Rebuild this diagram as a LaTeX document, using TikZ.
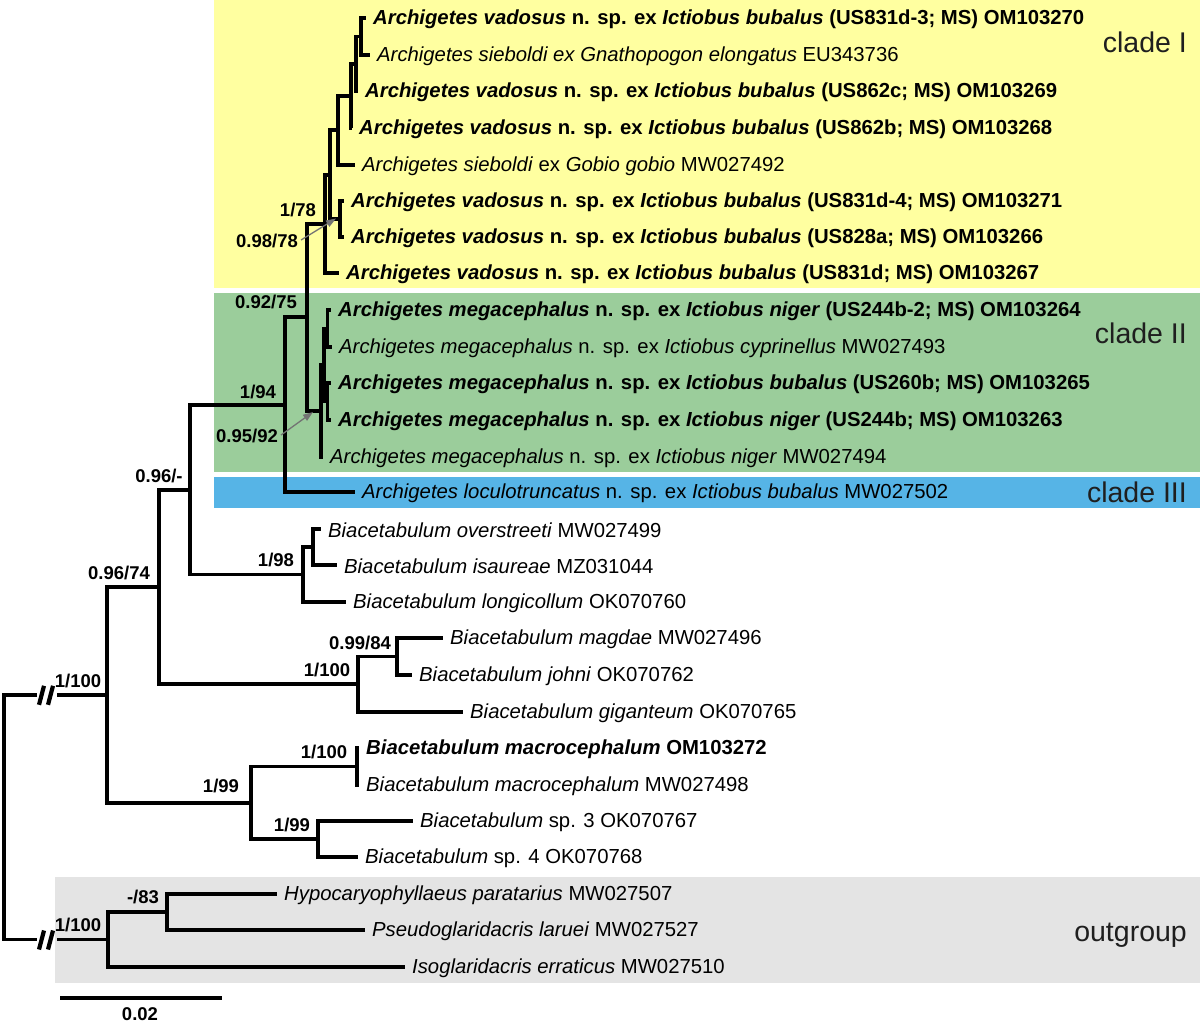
\documentclass[tikz,border=0pt]{standalone}
\usepackage{fontspec}
\setmainfont{Liberation Sans}
\usetikzlibrary{calc,arrows.meta}
\definecolor{cyel}{RGB}{255,255,160}
\definecolor{cgrn}{RGB}{155,205,155}
\definecolor{cblu}{RGB}{86,180,230}
\definecolor{cgry}{RGB}{228,228,228}
\newcommand{\bI}[1]{\textbf{\textit{#1}}}
\newcommand{\It}[1]{\textit{#1}}
\begin{document}
\begin{tikzpicture}[x=1pt,y=-1pt,
  br/.style={line width=3.9pt},
  tip/.style={anchor=west,inner sep=0pt,xshift=7pt,yshift=-1pt,font=\fontsize{20.3}{23}\selectfont},
  suplab/.style={inner sep=0pt,font=\fontsize{18.5}{21}\selectfont\bfseries},
  cladelab/.style={anchor=east,inner sep=0pt,font=\fontsize{28.5}{32}\selectfont,text=black!88},
  arr/.style={draw=gray!90!black,line width=1.3pt,-{Triangle[length=10pt,width=7pt]}},
  brk/.style={line width=4.2pt}]
\useasboundingbox (0,0) rectangle (1200,1024);
% backgrounds
\fill[cyel] (214,0) rectangle (1200,288);
\fill[cgrn] (214,293) rectangle (1200,472);
\fill[cblu] (214,477) rectangle (1200,508);
\fill[cgry] (55,877) rectangle (1200,983);
% internal nodes
\coordinate (r) at (4,817);
\coordinate (b1l) at (37,694.8);
\coordinate (b1r) at (57,694.8);
\coordinate (b2l) at (37,939.5);
\coordinate (b2r) at (57,939.5);
\coordinate (T) at (107,694.8);
\coordinate (U) at (159,586.9);
\coordinate (V) at (190,489.6);
\coordinate (W) at (285,404.7);
\coordinate (Z) at (307,317.4);
\coordinate (Y) at (325,223.9);
\coordinate (X) at (330,174.7);
\coordinate (G) at (338,130.4);
\coordinate (F) at (351,95.9);
\coordinate (E) at (356,63.75);
\coordinate (A) at (361,36.5);
\coordinate (H) at (340,219);
\coordinate (S) at (321,411);
\coordinate (R) at (324,365);
\coordinate (P) at (327.5,328.5);
\coordinate (Q) at (327.5,401.5);
\coordinate (B1) at (303,574.5);
\coordinate (B2) at (313,547);
\coordinate (C1) at (358,684.25);
\coordinate (C2) at (397,656.5);
\coordinate (D1) at (251,802.75);
\coordinate (D2) at (357,766.5);
\coordinate (D3) at (318,839);
\coordinate (O) at (108,939.5);
\coordinate (O2) at (167,912);
% tips
\coordinate (t1) at (366,18);
\coordinate (t2) at (370,55);
\coordinate (t3) at (358,91);
\coordinate (t4) at (352,128);
\coordinate (t5) at (355,165);
\coordinate (t6) at (344,201);
\coordinate (t7) at (344,237);
\coordinate (t8) at (339,273);
\coordinate (t9) at (331,310);
\coordinate (t10) at (332,347);
\coordinate (t11) at (331,383);
\coordinate (t12) at (331,420);
\coordinate (t13) at (323,457);
\coordinate (t14) at (355,492);
\coordinate (t15) at (321,529);
\coordinate (t16) at (337,565);
\coordinate (t17) at (346,602);
\coordinate (t18) at (443,638);
\coordinate (t19) at (412,675);
\coordinate (t20) at (463,712);
\coordinate (t21) at (359,748);
\coordinate (t22) at (359,785);
\coordinate (t23) at (413,821);
\coordinate (t24) at (358,857);
\coordinate (t25) at (277,894);
\coordinate (t26) at (365,930);
\coordinate (t27) at (405,967);
% branches
\draw[br] (r) |- (b1l);
\draw[br] (r) |- (b2l);
\draw[br] (b1r) -- (T);
\draw[br] (b2r) -- (O);
\foreach \p/\c in {A/t1,A/t2,E/A,E/t3,F/E,F/t4,G/F,G/t5,X/G,X/H,H/t6,H/t7,Y/X,Y/t8,
  Z/Y,Z/S,S/R,S/t13,R/P,R/Q,P/t9,P/t10,Q/t11,Q/t12,W/Z,W/t14,V/W,V/B1,B1/B2,B1/t17,
  B2/t15,B2/t16,U/V,U/C1,C1/C2,C1/t20,C2/t18,C2/t19,T/U,T/D1,D1/D2,D1/D3,D2/t21,D2/t22,
  D3/t23,D3/t24,O/O2,O/t27,O2/t25,O2/t26}
  \draw[br] (\p) |- (\c);
% break marks
\draw[brk] ($(b1l)+(2,10)$) -- ($(b1l)+(7,-9)$);
\draw[brk] ($(b1l)+(11,10)$) -- ($(b1l)+(16,-9)$);
\draw[brk] ($(b2l)+(2,10)$) -- ($(b2l)+(7,-9)$);
\draw[brk] ($(b2l)+(11,10)$) -- ($(b2l)+(16,-9)$);
% tip labels
\node[tip] (n1) at (t1) {\bI{Archigetes vadosus} \textbf{n. sp. ex} \bI{Ictiobus bubalus} \textbf{(US831d-3; MS) OM103270}};
\node[tip] (n2) at (t2) {\It{Archigetes sieboldi ex Gnathopogon elongatus} EU343736};
\node[tip] (n3) at (t3) {\bI{Archigetes vadosus} \textbf{n. sp. ex} \bI{Ictiobus bubalus} \textbf{(US862c; MS) OM103269}};
\node[tip] (n4) at (t4) {\bI{Archigetes vadosus} \textbf{n. sp. ex} \bI{Ictiobus bubalus} \textbf{(US862b; MS) OM103268}};
\node[tip] (n5) at (t5) {\It{Archigetes sieboldi} ex \It{Gobio gobio} MW027492};
\node[tip] (n6) at (t6) {\bI{Archigetes vadosus} \textbf{n. sp. ex} \bI{Ictiobus bubalus} \textbf{(US831d-4; MS) OM103271}};
\node[tip] (n7) at (t7) {\bI{Archigetes vadosus} \textbf{n. sp. ex} \bI{Ictiobus bubalus} \textbf{(US828a; MS) OM103266}};
\node[tip] (n8) at (t8) {\bI{Archigetes vadosus} \textbf{n. sp. ex} \bI{Ictiobus bubalus} \textbf{(US831d; MS) OM103267}};
\node[tip] (n9) at (t9) {\bI{Archigetes megacephalus} \textbf{n. sp. ex} \bI{Ictiobus niger} \textbf{(US244b-2; MS) OM103264}};
\node[tip] (n10) at (t10) {\It{Archigetes megacephalus} n. sp. ex \It{Ictiobus cyprinellus} MW027493};
\node[tip] (n11) at (t11) {\bI{Archigetes megacephalus} \textbf{n. sp. ex} \bI{Ictiobus bubalus} \textbf{(US260b; MS) OM103265}};
\node[tip] (n12) at (t12) {\bI{Archigetes megacephalus} \textbf{n. sp. ex} \bI{Ictiobus niger} \textbf{(US244b; MS) OM103263}};
\node[tip] (n13) at (t13) {\It{Archigetes megacephalus} n. sp. ex \It{Ictiobus niger} MW027494};
\node[tip] (n14) at (t14) {\It{Archigetes loculotruncatus} n. sp. ex \It{Ictiobus bubalus} MW027502};
\node[tip] (n15) at (t15) {\It{Biacetabulum overstreeti} MW027499};
\node[tip] (n16) at (t16) {\It{Biacetabulum isaureae} MZ031044};
\node[tip] (n17) at (t17) {\It{Biacetabulum longicollum} OK070760};
\node[tip] (n18) at (t18) {\It{Biacetabulum magdae} MW027496};
\node[tip] (n19) at (t19) {\It{Biacetabulum johni} OK070762};
\node[tip] (n20) at (t20) {\It{Biacetabulum giganteum} OK070765};
\node[tip] (n21) at (t21) {\bI{Biacetabulum macrocephalum} \textbf{OM103272}};
\node[tip] (n22) at (t22) {\It{Biacetabulum macrocephalum} MW027498};
\node[tip] (n23) at (t23) {\It{Biacetabulum} sp. 3 OK070767};
\node[tip] (n24) at (t24) {\It{Biacetabulum} sp. 4 OK070768};
\node[tip] (n25) at (t25) {\It{Hypocaryophyllaeus paratarius} MW027507};
\node[tip] (n26) at (t26) {\It{Pseudoglaridacris laruei} MW027527};
\node[tip] (n27) at (t27) {\It{Isoglaridacris erraticus} MW027510};
% support labels
\node[suplab] (s178) at (298,210) {1/78};
\node[suplab] (s09878) at (267,241) {0.98/78};
\node[suplab] (s09275) at (266,302) {0.92/75};
\node[suplab] (s194) at (258,392) {1/94};
\node[suplab] (s09592) at (247,436) {0.95/92};
\node[suplab] (s096) at (159,476) {0.96/-};
\node[suplab] (s09674) at (119,573) {0.96/74};
\node[suplab] (s198) at (276,560) {1/98};
\node[suplab] (s1100a) at (78,681) {1/100};
\node[suplab] (s1100b) at (78,925) {1/100};
\node[suplab] (s09984) at (360,643) {0.99/84};
\node[suplab] (s1100c) at (327,670) {1/100};
\node[suplab] (s1100d) at (324,752) {1/100};
\node[suplab] (s199a) at (221,786) {1/99};
\node[suplab] (s199b) at (292,825) {1/99};
\node[suplab] (s83) at (143,897) {-/83};
% arrows
\coordinate (aH) at (336,218.5);
\coordinate (aS) at (313,412);
\draw[arr] ($(s09878.east)+(3,-1)$) -- (aH);
\draw[arr] ($(s09592.east)+(3,-1)$) -- (aS);
% clade labels
\node[cladelab] (cI) at (1187,42) {clade I};
\node[cladelab] (cII) at (1187,333) {clade II};
\node[cladelab] (cIII) at (1187,492) {clade III};
\node[cladelab] (cout) at (1187,935) {outgroup};
% scale bar
\coordinate (sb1) at (60,998);
\coordinate (sb2) at (222,998);
\draw[br] (sb1) -- (sb2);
\node[suplab] (sbl) at (140,1014) {0.02};
\end{tikzpicture}
\end{document}
